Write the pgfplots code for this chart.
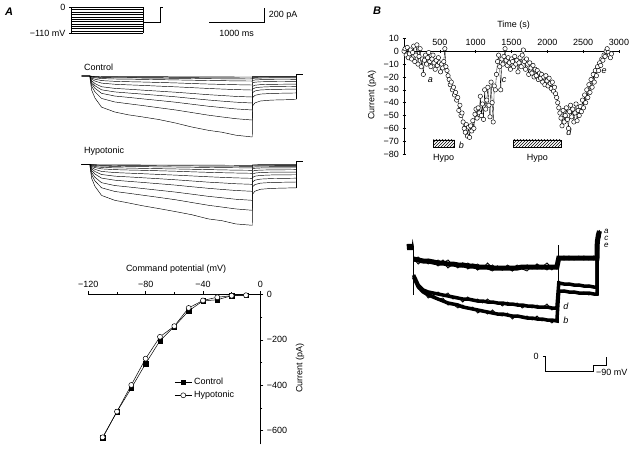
\documentclass[border=0pt]{standalone}
\usepackage{fontspec}
\setmainfont{Liberation Sans}
\usepackage{pgfplots}
\usepackage{pgfplotstable}
\pgfplotsset{compat=1.18}
\usetikzlibrary{patterns}

% whole-cell currents, panel A (t in ms, I in pA), bottom trace first
\pgfplotstableread{
t    c1   c2   c3   c4   c5   c6   c7  c8  c9  c10 c11
-150 0    0    0    0    0    0    0   0   0   0   0
0    0    0    0    0    0    0    0   0   0   0   0
5    -57  -41  -32  -25  -20  -13  -8  -5  -3  -2  -1
30   -187 -135 -104 -83  -64  -43  -28 -15 -9  -6  -3
90   -293 -211 -163 -130 -101 -67  -43 -24 -14 -10 -5
210  -415 -299 -231 -184 -143 -95  -61 -34 -20 -14 -7
450  -480 -346 -267 -212 -165 -110 -71 -40 -24 -16 -8
700  -518 -370 -285 -227 -176 -118 -76 -42 -25 -17 -8
950  -545 -393 -304 -241 -188 -125 -80 -45 -27 -18 -9
1250 -580 -423 -326 -259 -202 -135 -86 -48 -29 -19 -9
1550 -626 -452 -349 -277 -216 -144 -92 -52 -31 -21 -10
1850 -680 -487 -376 -299 -232 -155 -100 -56 -33 -22 -11
2150 -724 -522 -403 -320 -249 -166 -107 -60 -36 -24 -12
2400 -750 -546 -421 -335 -260 -174 -112 -62 -37 -25 -12
2650 -789 -569 -439 -349 -272 -181 -116 -65 -39 -26 -13
2950 -813 -587 -453 -360 -280 -187 -120 -67 -40 -27 -13
2955 -398 -288 -222 -176 -137 -92  -59 -33 -20 -13 -6
3000 -358 -258 -199 -158 -123 -82  -53 -29 -18 -12 -6
3100 -333 -241 -186 -148 -115 -77  -49 -27 -16 -11 -5
3300 -321 -232 -179 -142 -111 -74  -47 -26 -16 -11 -5
3750 -313 -226 -174 -139 -108 -72  -46 -26 -15 -10 -5
}\ctrltr

\pgfplotstableread{
t    c1   c2   c3   c4   c5   c6   c7  c8  c9  c10 c11
-150 0    0    0    0    0    0    0   0   0   0   0
0    0    0    0    0    0    0    0   0   0   0   0
5    -57  -43  -34  -25  -19  -13  -8  -6  -3  -2  -1
30   -187 -141 -110 -83  -61  -43  -28 -18 -11 -6  -3
90   -293 -221 -173 -130 -96  -67  -43 -29 -17 -10 -5
210  -415 -313 -245 -184 -136 -95  -61 -41 -24 -14 -7
450  -480 -362 -283 -212 -158 -110 -71 -47 -28 -16 -8
700  -515 -386 -302 -227 -168 -118 -76 -50 -30 -17 -8
950  -552 -411 -322 -241 -179 -125 -80 -54 -31 -18 -9
1250 -590 -441 -346 -259 -192 -135 -86 -58 -34 -19 -9
1550 -630 -472 -370 -277 -206 -144 -92 -62 -36 -21 -10
1850 -672 -509 -398 -299 -222 -155 -100 -66 -39 -22 -11
2150 -728 -546 -427 -320 -238 -166 -107 -71 -42 -24 -12
2400 -752 -570 -446 -335 -248 -174 -112 -74 -44 -25 -12
2650 -795 -595 -466 -349 -259 -181 -116 -78 -46 -26 -13
2950 -813 -613 -480 -360 -267 -187 -120 -80 -47 -27 -13
2955 -398 -300 -235 -176 -131 -92  -59 -39 -23 -13 -6
3000 -358 -270 -211 -158 -117 -82  -53 -35 -21 -12 -6
3100 -333 -251 -197 -148 -109 -77  -49 -33 -19 -11 -5
3300 -321 -242 -190 -142 -105 -74  -47 -32 -19 -11 -5
3750 -313 -236 -185 -139 -103 -72  -46 -31 -18 -10 -5
}\hypotr

% time course, panel B (s, pA)
\pgfplotstableread{
t I
0 0
15 2
30 -3
45 3
60 -5
75 -2
90 1
105 -6
120 -1
135 4
150 -8
165 -3
180 5
195 -10
210 -4
225 2
240 -12
255 -6
270 -18
285 -7
300 -3
315 -10
330 -5
345 -1
360 -8
375 -12
390 -6
405 -3
420 -9
435 -14
450 -7
465 -11
480 -5
495 -9
510 -16
525 -10
540 -13
555 -8
570 2
585 -12
600 -15
615 -19
630 -22
645 -26
660 -24
675 -30
690 -28
705 -34
720 -32
735 -38
750 -36
765 -46
780 -42
795 -50
810 -48
825 -55
840 -60
855 -63
870 -57
885 -66
900 -59
915 -67
930 -58
945 -62
960 -54
975 -60
990 -49
1005 -45
1020 -52
1035 -44
1050 -48
1065 -35
1080 -50
1095 -41
1110 -53
1125 -30
1140 -45
1155 -38
1170 -28
1185 -42
1200 -51
1215 -24
1230 -40
1245 -55
1260 -27
1275 -30
1290 -18
1305 -8
1320 -3
1335 -12
1350 -30
1365 -6
1380 -10
1395 -4
1410 2
1425 -7
1440 -11
1455 -5
1470 -9
1485 -14
1500 -6
1515 -8
1530 -12
1545 -4
1560 -10
1575 -7
1590 -16
1605 -9
1620 -5
1635 -12
1650 -3
1665 1
1680 -8
1695 -14
1710 -6
1725 -10
1740 -18
1755 -9
1770 -13
1785 -17
1800 -11
1815 -20
1830 -14
1845 -19
1860 -15
1875 -22
1890 -17
1905 -21
1920 -18
1935 -24
1950 -20
1965 -26
1980 -19
1995 -23
2010 -27
2025 -21
2040 -25
2055 -29
2070 -24
2085 -31
2100 -28
2115 -33
2130 -36
2145 -40
2160 -44
2175 -48
2190 -52
2205 -58
2220 -46
2235 -55
2250 -50
2265 -44
2280 -53
2295 -60
2310 -47
2325 -42
2340 -51
2355 -45
2370 -55
2385 -48
2400 -41
2415 -54
2430 -46
2445 -50
2460 -43
2475 -47
2490 -38
2505 -44
2520 -34
2535 -40
2550 -30
2565 -36
2580 -26
2595 -32
2610 -22
2625 -28
2640 -18
2655 -24
2670 -15
2685 -19
2700 -12
2715 -15
2730 -9
2745 -11
2760 -6
2775 -7
2790 -3
2805 -4
2820 0
2835 2
2850 -1
2865 -3
2880 -5
2895 -2
}\timecourse

% sample traces a-e, panel B (ms, pA); ma, md, mb = mean level of each band
\pgfplotstableread{
t    a   c   e   d   b   ma  md  mb
5    -10 -12 -12 -29 -28 -12 -28 -30
90   -15 -10 -17 -36 -42 -13 -38 -40
180  -13 -15 -13 -45 -44 -14 -43 -45
270  -17 -12 -16 -44 -51 -14 -45 -48
360  -13 -17 -15 -49 -48 -15 -46 -50
450  -17 -13 -19 -45 -53 -16 -47 -52
540  -13 -16 -15 -49 -51 -16 -48 -54
630  -19 -13 -21 -46 -58 -17 -49 -56
720  -17 -18 -17 -52 -57 -17 -50 -57
810  -21 -16 -20 -50 -61 -18 -51 -58
900  -16 -20 -16 -55 -58 -18 -52 -60
990  -20 -16 -22 -50 -62 -19 -52 -61
1080 -17 -19 -19 -54 -60 -19 -53 -62
1170 -23 -17 -23 -52 -66 -20 -54 -63
1260 -19 -21 -19 -56 -63 -20 -54 -64
1350 -22 -16 -22 -52 -67 -20 -55 -65
1440 -18 -21 -24 -56 -63 -21 -55 -66
1530 -22 -19 -19 -55 -68 -21 -56 -67
1620 -23 -23 -23 -59 -69 -21 -56 -67
1710 -19 -18 -21 -55 -66 -21 -57 -68
1800 -24 -21 -24 -58 -72 -21 -57 -69
1890 -20 -18 -20 -56 -68 -21 -58 -69
1980 -21 -22 -22 -61 -71 -20 -58 -70
2070 -18 -18 -24 -58 -69 -20 -59 -71
2160 -22 -21 -19 -61 -73 -20 -59 -71
2250 -17 -17 -22 -58 -69 -20 -60 -72
2340 -22 -20 -20 -61 -74 -20 -60 -72
2430 -19 -16 -23 -57 -72 -20 -60 -73
2520 -23 -21 -19 -63 -76 -20 -61 -73
2610 -18 -18 -22 -60 -72 -20 -61 -74
2645 -9  -12 -11 -34 -45 -11 -36 -44
2740 -13 -9  -12 -38 -43 -11 -37 -44
2830 -10 -13 -9  -36 -46 -11 -37 -45
2920 -12 -10 -13 -39 -44 -11 -38 -45
3010 -9  -12 -11 -37 -47 -11 -38 -46
3100 -13 -9  -10 -40 -45 -11 -39 -46
3190 -10 -11 -13 -38 -48 -11 -39 -46
3280 -12 -13 -9  -41 -46 -11 -40 -47
3340 -11 -10 -12 -39 -47 -11 -40 -47
3345 6   4   5   3   2   5   3   2
3365 13  11  12  10  9   12  10  9
3385 17  15  16  14  12  16  14  12
}\btraces

\pgfplotsset{
  every axis/.append style={font=\fontsize{9}{10.8}\selectfont},
  tr/.style={black, line width=0.45pt, no marks},
  hid/.style={hide axis, clip=false, anchor=south west},
}

\begin{document}
\begin{tikzpicture}[font=\fontsize{9}{10.8}\selectfont]
\useasboundingbox (0,0) rectangle (635pt,-459pt);

\node[font=\fontsize{11}{13}\selectfont\bfseries\itshape] at (9pt,-12pt) {A};
\node[font=\fontsize{11}{13}\selectfont\bfseries\itshape] at (377pt,-11pt) {B};

% voltage protocol A
\begin{axis}[hid, x=0.055pt, y=0.2364pt, xmin=-50, xmax=1700, ymin=-115, ymax=5,
  at={(68.95pt,-34.49pt)}]
\pgfplotsinvokeforeach{0,-10,...,-110}{\addplot[tr, line width=0.4pt] coordinates {(0,#1) (1300,#1)};}
\addplot[tr] coordinates {(0,0) (0,-110)};
\addplot[tr] coordinates {(1300,0) (1300,-110)};
\addplot[tr, line width=0.6pt] coordinates {(1300,-63) (1605,-63) (1605,0) (1660,0)};
\addplot[tr] coordinates {(-45,0) (0,0)};
\addplot[tr] coordinates {(-45,-110) (0,-110)};
\node[anchor=east] at (axis cs:-50,0) {0};
\node[anchor=east] at (axis cs:-50,-110) {−110 mV};
\end{axis}

% control traces + scale bar
\begin{axis}[hid, x=0.055pt, y=0.075pt, xmin=-200, xmax=4000, ymin=-900, ymax=100,
  at={(79pt,-143.5pt)}]
\pgfplotsinvokeforeach{1,...,11}{\addplot[tr] table[x=t, y=c#1] {\ctrltr};}
\addplot[tr] coordinates {(3750,-313) (3750,27) (3870,27)};
\addplot[black, line width=0.6pt] coordinates {(2164,711) (3164,711) (3164,911)};
\node[anchor=west] at (axis cs:3190,811) {200 pA};
\node at (axis cs:2667,573) {1000 ms};
\node[anchor=west, inner sep=0pt] at (axis cs:-110,120) {Control};
\end{axis}

% hypotonic traces
\begin{axis}[hid, x=0.055pt, y=0.075pt, xmin=-200, xmax=4000, ymin=-900, ymax=100,
  at={(79pt,-231.8pt)}]
\pgfplotsinvokeforeach{1,...,11}{\addplot[tr] table[x=t, y=c#1] {\hypotr};}
\addplot[tr] coordinates {(3750,-313) (3750,40) (3870,40)};
\node[anchor=west, inner sep=0pt] at (axis cs:-110,175) {Hypotonic};
\end{axis}

% I-V relation
\begin{axis}[at={(88.3pt,-444.3pt)}, anchor=south west, scale only axis,
  width=172pt, height=150pt, xmin=-120, xmax=0, ymin=-660, ymax=0,
  axis x line=top, axis y line=right, axis line style={-, line width=0.6pt},
  xtick={-120,-80,-40,0}, xticklabels={−120,−80,−40,0},
  ytick={0,-200,-400,-600}, yticklabels={0,−200,−400,−600},
  minor x tick num=1, minor y tick num=1, tick align=outside,
  major tick length=3pt, minor tick length=2pt, tick style={black, line width=0.5pt},
  clip=false,
  legend style={at={(0.5,0.455)}, anchor=north west, draw=none, fill=none,
    inner sep=0pt, row sep=1pt},
  legend cell align=left]
\addplot[black, line width=0.5pt, mark=square*, mark size=2.2pt] coordinates {
  (-110,-632) (-100,-516) (-90,-413) (-80,-305) (-70,-204) (-60,-142)
  (-50,-73) (-40,-29) (-30,-24) (-20,-6) (-10,-4)};
\addlegendentry{Control}
\addplot[black, line width=0.5pt, mark=*, mark size=2.5pt, mark options={fill=white}] coordinates {
  (-110,-629) (-100,-516) (-90,-399) (-80,-283) (-70,-187) (-60,-140)
  (-50,-60) (-40,-27) (-30,-13) (-20,-6) (-10,-4)};
\addlegendentry{Hypotonic}
\node at (rel axis cs:0.51,1.169) {Command potential (mV)};
\node[rotate=90] at (rel axis cs:1.231,0.509) {Current (pA)};
\end{axis}

% time course B
\begin{axis}[at={(404pt,-154.1pt)}, anchor=south west, scale only axis,
  width=215pt, height=115.7pt, xmin=0, xmax=3000, ymin=-80, ymax=10,
  axis x line=middle, axis y line=left, axis line style={-, line width=0.6pt},
  xtick={500,1000,...,3000}, xticklabels={500,1000,1500,2000,2500,3000},
  ytick={10,0,...,-80}, yticklabels={10,0,−10,−20,−30,−40,−50,−60,−70,−80},
  xticklabel style={anchor=south, yshift=4pt},
  major tick length=3pt, tick style={black, line width=0.5pt},
  clip=false]
\addplot[black, line width=0.35pt, mark=*, mark size=2.2pt,
  mark options={fill=white, line width=0.45pt}] table[x=t, y=I] {\timecourse};
\draw[pattern=north east lines, line width=0.5pt] (axis cs:411,-69) rectangle (axis cs:699,-75);
\draw[pattern=north east lines, line width=0.5pt] (axis cs:1527,-69) rectangle (axis cs:2195,-75);
\node at (axis cs:553,-83) {Hypo};
\node at (axis cs:1860,-83) {Hypo};
\node[font=\fontsize{9}{10.8}\selectfont\itshape] at (axis cs:367,-22.5) {a};
\node[font=\fontsize{9}{10.8}\selectfont\itshape] at (axis cs:801,-73.5) {b};
\node[font=\fontsize{9}{10.8}\selectfont\itshape] at (axis cs:1398,-22.5) {c};
\node[font=\fontsize{9}{10.8}\selectfont\itshape] at (axis cs:2301,-63.4) {d};
\node[font=\fontsize{9}{10.8}\selectfont\itshape] at (axis cs:2792,-15.2) {e};
\node at (rel axis cs:0.51,1.116) {Time (s)};
\node[rotate=90] at (rel axis cs:-0.149,0.51) {Current (pA)};
\end{axis}

% sample traces B
\begin{axis}[hid, x=0.055pt, y=1pt, xmin=-150, xmax=3600, ymin=-80, ymax=20,
  at={(405.05pt,-327pt)}]
\addplot[black, line width=1.4pt] coordinates {(-110,3) (-100,-3) (-90,3) (-80,-3) (-70,3)
  (-60,-3) (-50,3) (-40,-3) (-30,3) (-20,-3) (-10,3) (0,0)};
\addplot[black, line width=0.6pt] coordinates {(0,0) (0,-48)};
\addplot[black, line width=0.6pt] coordinates {(2635,-76) (2635,2)};
\addplot[black, line width=0.6pt] coordinates {(3342,-47) (3342,15)};
\addplot[black, line width=5pt] table[x=t, y=ma] {\btraces};
\addplot[black, line width=3.5pt] table[x=t, y=md] {\btraces};
\addplot[black, line width=3.5pt] table[x=t, y=mb] {\btraces};
\foreach \c in {a,c,e,d,b}{
  \addplot[black, line width=0.8pt] table[x=t, y=\c] {\btraces};
}
\node[font=\fontsize{9}{10.8}\selectfont\itshape] at (axis cs:2776,-59) {d};
\node[font=\fontsize{9}{10.8}\selectfont\itshape] at (axis cs:2776,-73) {b};
\node[font=\fontsize{8}{9}\selectfont\itshape] at (axis cs:3509,16) {a};
\node[font=\fontsize{8}{9}\selectfont\itshape] at (axis cs:3509,9) {c};
\node[font=\fontsize{8}{9}\selectfont\itshape] at (axis cs:3509,2) {e};
\end{axis}

% voltage protocol B
\begin{axis}[hid, x=0.055pt, y=0.1667pt, xmin=-100, xmax=1300, ymin=-100, ymax=5,
  at={(539.5pt,-373.37pt)}]
\addplot[tr, line width=0.6pt] coordinates {(-40,0) (0,0) (0,-90) (873,-90) (873,-50) (1109,-50) (1109,0)};
\node[anchor=east] at (axis cs:-50,3) {0};
\node[anchor=west, inner sep=0pt] at (axis cs:925,-93) {−90 mV};
\end{axis}
\end{tikzpicture}
\end{document}
